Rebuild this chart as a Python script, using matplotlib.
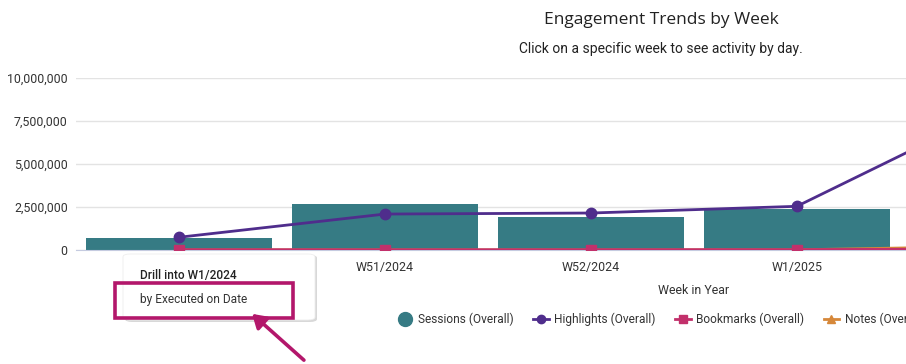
import numpy as np
import matplotlib.pyplot as plt
from matplotlib.lines import Line2D
from matplotlib.patches import FancyBboxPatch, Rectangle, FancyArrowPatch

weeks = ['W1/2024', 'W51/2024', 'W52/2024', 'W1/2025', 'W2/2025']
sessions = [690000, 2670000, 1900000, 2390000, 2600000]
highlights = [740000, 2090000, 2150000, 2540000, 8400000]
bookmarks = [20000, 15000, 18000, 22000, 60000]
notes = [5000, 8000, 6000, 10000, 220000]

c_sess = '#367b84'
c_high = '#4f2d8c'
c_book = '#c2306b'
c_note = '#d6883a'
c_mag = '#b3176b'

W, H = 906, 364
plt.rcParams['font.family'] = ['Roboto', 'DejaVu Sans']

fig = plt.figure(figsize=(W / 100, H / 100), dpi=100)

def fx(px):
    return px / W

def fy(py):
    return 1 - py / H

ax = fig.add_axes([fx(76), fy(250), 1 - fx(76), fy(78) - fy(250)])
x = np.arange(len(weeks))

ax.bar(x, sessions, width=0.903, color=c_sess, zorder=2)
ax.plot(x, notes, color=c_note, lw=2, marker='^', ms=7, zorder=3)
ax.plot(x, bookmarks, color=c_book, lw=2, marker='s', ms=7, zorder=4)
ax.plot(x, highlights, color=c_high, lw=2, marker='o', ms=7.5, zorder=5)

ax.set_xticks(x)
ax.set_xticklabels(weeks)
# first week's label sits under the drill-down tooltip
ax.get_xticklabels()[0].set_visible(False)
ax.set_xlim(-0.5, 3.53)
ax.set_ylim(0, 10000000)
ax.set_yticks([0, 2500000, 5000000, 7500000, 10000000])
ax.yaxis.set_major_formatter(plt.FuncFormatter(lambda v, p: f'{int(v):,}'))
ax.grid(axis='y', color='#e3e3e3', lw=1, zorder=0)
for s in ['top', 'right', 'left']:
    ax.spines[s].set_visible(False)
ax.spines['bottom'].set_color('#c5cbe0')
ax.tick_params(length=0, labelsize=8.9, colors='#333333')
ax.tick_params(axis='y', pad=6)
ax.tick_params(axis='x', pad=8)
ax.set_xlabel('Week in Year', fontsize=8.9, color='#333333')
ax.xaxis.set_label_coords((694 - 76) / (W - 76), -(284 - 250) / 172)

fig.text(fx(661), fy(20), 'Engagement Trends by Week', ha='center', va='center',
         fontsize=12.5, color='#222222', family=['Open Sans', 'DejaVu Sans'])
fig.text(fx(661), fy(49), 'Click on a specific week to see activity by day.',
         ha='center', va='center', fontsize=10, color='#222222')

handles = [
    Line2D([], [], color=c_sess, marker='o', ls='none', ms=10),
    Line2D([], [], color=c_high, marker='o', lw=2, ms=6),
    Line2D([], [], color=c_book, marker='s', lw=2, ms=6),
    Line2D([], [], color=c_note, marker='^', lw=2, ms=6),
]
labels = ['Sessions (Overall)', 'Highlights (Overall)', 'Bookmarks (Overall)', 'Notes (Overall)']
fig.legend(handles, labels, loc='center left', bbox_to_anchor=(fx(386), fy(319)),
           ncol=4, frameon=False, fontsize=8.6, handlelength=1.3, handletextpad=0.5,
           columnspacing=1.6, labelcolor='#333333')

# drill-down tooltip
shadow = FancyBboxPatch((fx(125), fy(322)), fx(192), fy(255) - fy(322),
                        boxstyle='round,pad=0,rounding_size=0.008',
                        transform=fig.transFigure, fc='#d8d8d8', ec='none', zorder=9)
box = FancyBboxPatch((fx(123), fy(320)), fx(192), fy(254) - fy(320),
                     boxstyle='round,pad=0,rounding_size=0.008',
                     transform=fig.transFigure, fc='white', ec='#eeeeee', lw=0.6, zorder=10)
fig.add_artist(shadow)
fig.add_artist(box)
fig.text(fx(140), fy(276), 'Drill into W1/2024', fontsize=8.6, fontweight='medium',
         color='#222222', va='center', zorder=11)
fig.text(fx(140), fy(299), 'by Executed on Date', fontsize=8.6,
         color='#333333', va='center', zorder=11)
fig.add_artist(Rectangle((fx(115), fy(318)), fx(178), fy(283) - fy(318),
                         transform=fig.transFigure, fill=False, ec=c_mag, lw=2.6, zorder=12))
fig.add_artist(FancyArrowPatch((fx(306), fy(362)), (fx(250), fy(312)),
                               transform=fig.transFigure, arrowstyle='-|>,head_length=8,head_width=5',
                               color=c_mag, lw=2.6, zorder=12))

fig.savefig('out.png', dpi=100)
